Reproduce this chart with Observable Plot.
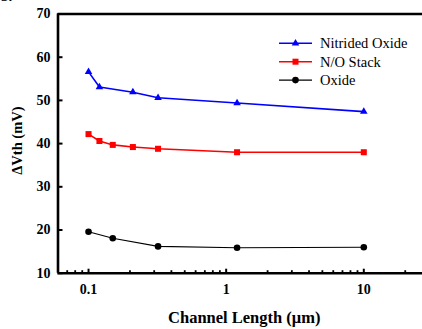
<!DOCTYPE html>
<html><head><meta charset="utf-8">
<script src="https://cdn.jsdelivr.net/npm/d3@7"></script>
<script src="https://cdn.jsdelivr.net/npm/@observablehq/plot@0.6"></script>
<style>
body{margin:0;background:#fff;}
#wrap{position:relative;width:422px;height:329px;overflow:hidden;background:#fff;}
#chart svg, #chart svg text{font-family:'Liberation Serif';}
#chart g[aria-label="x-axis label"] text{font-size:16.5px;}
#chart g[aria-label="y-axis label"] text{font-size:14.5px;}
#legend{position:absolute;left:0;top:0;pointer-events:none;}
#fig{position:absolute;left:1px;top:-12px;font-family:'Liberation Serif';font-weight:bold;font-size:15px;}
</style></head><body>
<div id="wrap"><div id="fig">3.</div><div id="chart"></div><svg id="legend" width="422" height="329"></svg></div>
<script>
const seriesNames = ["Nitrided Oxide", "N/O Stack", "Oxide"];
const seriesColors = ["#0000ff", "#ff0000", "#000000"];
const seriesSymbols = ["triangle", "square", "circle"];

const nitridedX = [0.1, 0.12, 0.21, 0.32, 1.2, 10];
const nitridedY = [56.6, 53.1, 51.9, 50.6, 49.4, 47.4];
const noStackX = [0.1, 0.12, 0.15, 0.21, 0.32, 1.2, 10];
const noStackY = [42.2, 40.6, 39.7, 39.2, 38.8, 38.0, 38.0];
const oxideX = [0.1, 0.15, 0.32, 1.2, 10];
const oxideY = [19.6, 18.1, 16.2, 15.9, 16.0];

const yTicks = [10, 20, 30, 40, 50, 60, 70];
const xMajorTicks = [0.1, 1, 10];
const xTickLabels = ["0.1", "1", "10"];
const xMinorTicks = [0.07, 0.08, 0.09, 0.2, 0.3, 0.4, 0.5, 0.6, 0.7, 0.8, 0.9, 2, 3, 4, 5, 6, 7, 8, 9, 20];
const xDomain = [0.06, 26.7];
const yDomain = [10, 70];
const xLabel = "Channel Length (μm)";
const yLabel = "ΔVth (mV)";

const FONT = "Liberation Serif";
const seriesX = [nitridedX, noStackX, oxideX];
const seriesY = [nitridedY, noStackY, oxideY];
const lineWidths = [1.6, 1.6, 1.1];
const dotR = [2.8, 3.4, 3.3];

const data = [];
seriesNames.forEach((s, k) => seriesX[k].forEach((x, i) => data.push({series: s, x, y: seriesY[k][i]})));

const seriesMarks = [];
seriesNames.forEach((s, k) => {
  const d = data.filter(e => e.series === s);
  seriesMarks.push(Plot.line(d, {x: "x", y: "y", stroke: seriesColors[k], strokeWidth: lineWidths[k]}));
  seriesMarks.push(Plot.dot(d, {x: "x", y: "y", fill: seriesColors[k], stroke: "none", symbol: () => seriesSymbols[k], r: dotR[k]}));
});

const plot = Plot.plot({
  width: 422, height: 329,
  marginLeft: 57.5, marginRight: 0, marginTop: 13.5, marginBottom: 56.3,
  style: {fontFamily: FONT, fontSize: "14px", fontWeight: "bold", color: "#000", background: "#fff", overflow: "visible"},
  x: {type: "log", domain: xDomain},
  y: {domain: yDomain},
  marks: [
    Plot.axisX({ticks: xMinorTicks, tickSize: -2.5, strokeWidth: 1.8, tickFormat: () => "", label: null}),
    Plot.axisX({ticks: xMajorTicks, tickSize: -4, strokeWidth: 2, tickPadding: 15, fontFamily: FONT, tickFormat: d => xTickLabels[xMajorTicks.indexOf(d)], label: xLabel, labelAnchor: "center", labelOffset: 50, labelArrow: "none"}),
    Plot.axisY({ticks: yTicks, tickSize: -5, strokeWidth: 2, tickPadding: 12.5, fontFamily: FONT, tickFormat: d => String(d), label: yLabel, labelAnchor: "center", labelOffset: 46, labelArrow: "none"}),
    Plot.ruleY([yDomain[0], yDomain[1]], {strokeWidth: 2.6}),
    Plot.ruleX([xDomain[0]], {strokeWidth: 2.6}),
    ...seriesMarks
  ]
});
plot.setAttribute("font-family", FONT);
plot.querySelectorAll("text").forEach(t => t.setAttribute("font-family", FONT));
// small nudges of the axis titles to match the reference placement
const xl = plot.querySelector('g[aria-label="x-axis label"]');
if (xl) xl.setAttribute("transform", (xl.getAttribute("transform") || "") + " translate(4,0)");
const yl = plot.querySelector('g[aria-label="y-axis label"]');
if (yl) yl.setAttribute("transform", (yl.getAttribute("transform") || "") + " translate(0,-3)");
document.getElementById("chart").appendChild(plot);

// legend
const lg = d3.select("#legend").attr("font-family", FONT);
const rowY0 = 43.3, rowStep = 18.4;
seriesNames.forEach((s, k) => {
  const g = lg.append("g").attr("transform", `translate(0,${rowY0 + k * rowStep})`);
  g.append("line").attr("x1", 279).attr("x2", 312).attr("y1", 0).attr("y2", 0).attr("stroke", seriesColors[k]).attr("stroke-width", lineWidths[k]);
  const sym = {triangle: d3.symbolTriangle, square: d3.symbolSquare, circle: d3.symbolCircle}[seriesSymbols[k]];
  g.append("path").attr("transform", "translate(295.5,0)").attr("d", d3.symbol(sym, Math.PI * dotR[k] * dotR[k])()).attr("fill", seriesColors[k]);
  g.append("text").attr("x", 320).attr("y", 5).attr("font-family", FONT).attr("font-size", "14.5px").attr("fill", "#000").text(s);
});
</script>
</body></html>
